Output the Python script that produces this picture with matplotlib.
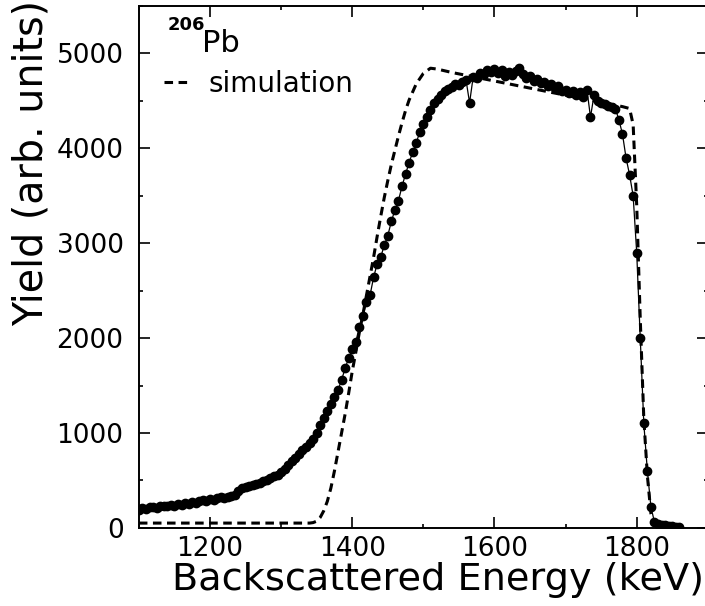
import numpy as np
import matplotlib
matplotlib.use("Agg")
import matplotlib.pyplot as plt
from matplotlib.ticker import MultipleLocator

# ==== DATA ====
# measured spectrum, 5 keV channels from 1100 keV
energy = np.arange(1100, 1865, 5)
yield_meas = [
    190, 205, 200, 215, 220, 210, 225, 230, 225, 240,
    235, 250, 245, 260, 255, 270, 265, 280, 290, 285,
    300, 295, 310, 320, 315, 330, 340, 350, 385, 420,
    430, 440, 450, 460, 475, 490, 500, 520, 545, 560,
    590, 620, 660, 700, 740, 780, 820, 850, 890, 940,
    1000, 1080, 1160, 1230, 1300, 1380, 1450, 1560, 1680, 1790,
    1880, 1960, 2120, 2230, 2380, 2450, 2640, 2780, 2850, 2980,
    3080, 3230, 3350, 3450, 3600, 3730, 3850, 3960, 4060, 4170,
    4260, 4330, 4400, 4480, 4520, 4560, 4600, 4630, 4650, 4680,
    4670, 4700, 4720, 4480, 4750, 4740, 4790, 4780, 4830, 4810,
    4840, 4790, 4830, 4760, 4800, 4770, 4820, 4850, 4780, 4740,
    4760, 4710, 4730, 4690, 4700, 4660, 4680, 4640, 4660, 4600,
    4620, 4580, 4600, 4560, 4590, 4540, 4620, 4330, 4560, 4500,
    4480, 4470, 4450, 4440, 4420, 4300, 4150, 3900, 3720, 3500,
    2900, 2000, 1100, 600, 220, 60, 40, 30, 25, 20,
    15, 10, 5,
]

# simulated spectrum
sim_energy = [1100, 1340, 1345, 1350, 1355, 1360, 1365, 1370, 1375, 1380,
              1385, 1390, 1395, 1400, 1405, 1410, 1415, 1420, 1425, 1430,
              1435, 1440, 1445, 1450, 1455, 1460, 1465, 1470, 1475, 1480,
              1490, 1500, 1510, 1520, 1540, 1560, 1580, 1600, 1620, 1640,
              1660, 1680, 1700, 1720, 1740, 1760, 1780, 1790, 1795, 1800,
              1805, 1810, 1815, 1820, 1825]
sim_yield = [50, 50, 55, 70, 110, 180, 280, 420, 600, 800,
             1000, 1200, 1420, 1650, 1850, 2060, 2250, 2450, 2650, 2850,
             3070, 3280, 3480, 3660, 3830, 3980, 4130, 4270, 4400, 4510,
             4680, 4790, 4845, 4835, 4800, 4770, 4740, 4710, 4680, 4650,
             4620, 4590, 4560, 4530, 4500, 4470, 4440, 4420, 4250, 3400,
             2200, 1150, 550, 150, 20]

# ==== PLOT ====
plt.rcParams["font.family"] = ["DejaVu Sans"]

fig = plt.figure(figsize=(7.05, 6.06), dpi=100)
ax = fig.add_axes([0.197, 0.129, 0.807, 0.861])

ax.plot(energy, yield_meas, color="black", lw=0.9, marker="o", ms=6,
        mec="black", mfc="black")
ax.plot(sim_energy, sim_yield, color="black", lw=2.2,
        linestyle=(0, (2.8, 1.8)), label="simulation")

ax.set_xlim(1100, 1900)
ax.set_ylim(0, 5500)

ax.xaxis.set_major_locator(MultipleLocator(200))
ax.xaxis.set_minor_locator(MultipleLocator(100))
ax.yaxis.set_major_locator(MultipleLocator(1000))
ax.yaxis.set_minor_locator(MultipleLocator(500))
ax.tick_params(which="both", direction="in", top=True, right=True, width=1.2)
ax.tick_params(which="major", length=8)
ax.tick_params(which="minor", length=3)
ax.tick_params(axis="x", labelsize=19, pad=6)
ax.tick_params(axis="y", labelsize=19, pad=11)
for s in ax.spines.values():
    s.set_linewidth(1.4)

ax.set_xlabel("Backscattered Energy (keV)", fontsize=27.5)
ax.xaxis.set_label_coords(0.525, -0.066)
ax.set_ylabel("Yield (arb. units)", fontsize=28.5, va="center")
ax.yaxis.set_label_coords(-0.188, 0.7)

ax.text(0.051, 0.955, "206", transform=ax.transAxes, fontsize=13,
        fontweight="bold", va="baseline")
ax.text(0.111, 0.912, "Pb", transform=ax.transAxes, fontsize=22,
        va="baseline")

ax.legend(loc="upper left", bbox_to_anchor=(0.0, 0.925), frameon=False,
          handlelength=1.0, handletextpad=0.6, fontsize=20)

fig.savefig("out.png", dpi=100)
